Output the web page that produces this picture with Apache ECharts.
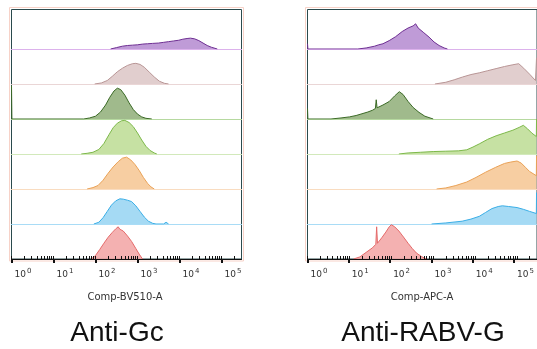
<!DOCTYPE html>
<html><head><meta charset="utf-8">
<script src="https://cdn.jsdelivr.net/npm/echarts@6/dist/echarts.min.js"></script>
<style>html,body{margin:0;padding:0;background:#fff}#c{width:537px;height:349px}</style>
</head><body><div id="c"></div>
<script>
// ---- data: [log10(intensity), relative count] ----
const rowNames = ['purple','mauve','darkgreen','lightgreen','orange','blue','red'];
const panelTitles = ['Anti-Gc','Anti-RABV-G'];
const axisTitles = ['Comp-BV510-A','Comp-APC-A'];
const decadeTicks = [0,1,2,3,4,5];

const gcPurple = [[2.36,0],[2.5,0.04],[2.64,0.08],[2.76,0.1],[2.88,0.11],[3.0,0.12],[3.12,0.14],[3.24,0.15],[3.36,0.16],[3.5,0.17],[3.62,0.19],[3.74,0.21],[3.86,0.23],[3.98,0.25],[4.08,0.28],[4.18,0.3],[4.26,0.31],[4.36,0.29],[4.46,0.24],[4.56,0.17],[4.66,0.1],[4.76,0.05],[4.9,0]];
const gcMauve = [[1.98,0],[2.14,0.03],[2.28,0.1],[2.4,0.22],[2.52,0.35],[2.64,0.45],[2.76,0.53],[2.88,0.58],[2.96,0.59],[3.06,0.56],[3.16,0.48],[3.28,0.34],[3.4,0.2],[3.52,0.08],[3.64,0.02],[3.74,0]];
const gcDarkGreen = [[0,0.95],[0.01,0],[1.72,0],[1.86,0.03],[2.0,0.08],[2.12,0.2],[2.24,0.4],[2.34,0.62],[2.44,0.8],[2.52,0.88],[2.6,0.84],[2.7,0.68],[2.8,0.46],[2.9,0.27],[3.0,0.14],[3.1,0.06],[3.2,0.02],[3.34,0]];
const gcLightGreen = [[1.66,0],[1.8,0.02],[1.94,0.05],[2.08,0.13],[2.2,0.3],[2.32,0.55],[2.42,0.75],[2.52,0.88],[2.62,0.95],[2.7,0.96],[2.8,0.9],[2.9,0.78],[3.0,0.6],[3.1,0.4],[3.2,0.22],[3.3,0.1],[3.4,0.03],[3.46,0]];
const gcOrange = [[1.8,0],[1.94,0.04],[2.06,0.1],[2.18,0.25],[2.3,0.45],[2.42,0.63],[2.54,0.78],[2.64,0.88],[2.74,0.91],[2.84,0.83],[2.94,0.7],[3.04,0.53],[3.14,0.33],[3.24,0.16],[3.32,0.06],[3.4,0]];
const gcBlue = [[1.96,0],[2.08,0.05],[2.18,0.18],[2.28,0.36],[2.38,0.54],[2.48,0.66],[2.58,0.72],[2.66,0.71],[2.76,0.68],[2.86,0.64],[2.96,0.52],[3.06,0.36],[3.16,0.2],[3.26,0.08],[3.36,0.02],[3.44,0],[3.62,0],[3.68,0.05],[3.74,0]];
const gcRed = [[1.9,0],[2.0,0.1],[2.1,0.27],[2.2,0.45],[2.3,0.62],[2.4,0.76],[2.48,0.86],[2.54,0.92],[2.58,0.85],[2.66,0.8],[2.76,0.66],[2.86,0.5],[2.96,0.3],[3.04,0.14],[3.12,0]];

const rgPurple = [[0,0.15],[0.01,0],[1.2,0],[1.4,0.03],[1.6,0.08],[1.7,0.12],[1.8,0.15],[1.95,0.24],[2.1,0.35],[2.26,0.5],[2.4,0.6],[2.52,0.66],[2.58,0.72],[2.64,0.6],[2.76,0.48],[2.9,0.34],[3.02,0.2],[3.14,0.1],[3.26,0.03],[3.34,0]];
const rgMauve = [[3.04,0],[3.3,0.05],[3.5,0.12],[3.7,0.2],[3.9,0.27],[4.1,0.32],[4.3,0.38],[4.5,0.44],[4.7,0.5],[4.9,0.55],[5.04,0.58],[5.16,0.45],[5.3,0.28],[5.44,0.1],[5.46,0.1],[5.465,0.75]];
const rgDarkGreen = [[0,0.3],[0.01,0],[0.56,0],[0.8,0.03],[1.0,0.06],[1.16,0.1],[1.3,0.15],[1.44,0.2],[1.55,0.25],[1.62,0.3],[1.64,0.55],[1.66,0.32],[1.8,0.4],[1.95,0.5],[2.08,0.66],[2.19,0.78],[2.28,0.7],[2.4,0.5],[2.52,0.33],[2.66,0.19],[2.8,0.08],[3.0,0]];
const rgLightGreen = [[2.18,0],[2.4,0.03],[2.7,0.05],[3.0,0.07],[3.3,0.08],[3.6,0.09],[3.8,0.12],[3.95,0.2],[4.1,0.29],[4.3,0.42],[4.5,0.52],[4.7,0.6],[4.9,0.68],[5.05,0.76],[5.15,0.82],[5.25,0.72],[5.35,0.6],[5.46,0.5],[5.465,1.0]];
const rgOrange = [[3.08,0],[3.3,0.03],[3.54,0.1],[3.8,0.2],[4.02,0.33],[4.25,0.48],[4.49,0.62],[4.7,0.73],[4.85,0.77],[5.0,0.8],[5.1,0.74],[5.2,0.62],[5.3,0.5],[5.46,0.38],[5.465,0.95]];
const rgBlue = [[2.96,0],[3.3,0.03],[3.69,0.08],[3.9,0.14],[4.1,0.22],[4.25,0.33],[4.4,0.44],[4.55,0.5],[4.65,0.52],[4.8,0.5],[5.0,0.47],[5.15,0.42],[5.3,0.36],[5.46,0.3],[5.465,0.9]];
const rgRed = [[1.1,0],[1.25,0.06],[1.4,0.19],[1.55,0.32],[1.63,0.42],[1.65,0.92],[1.67,0.45],[1.78,0.62],[1.87,0.77],[1.95,0.92],[2.0,0.98],[2.08,0.92],[2.18,0.8],[2.27,0.66],[2.4,0.45],[2.5,0.3],[2.6,0.17],[2.72,0.07],[2.84,0]];

const panelData = [
  [gcPurple, gcMauve, gcDarkGreen, gcLightGreen, gcOrange, gcBlue, gcRed],
  [rgPurple, rgMauve, rgDarkGreen, rgLightGreen, rgOrange, rgBlue, rgRed]
];

// ---- styles ----
const lineColors = ['#6e2f92','#b89595','#3b6a26','#7db84a','#e9a156','#3aaee6','#e46a6a'];
const fillColors = ['#b48ad0','#dcc6c6','#8fae78','#bcdc93','#f6c692','#95d4f2','#f2a3a3'];
const baseColors = ['#dcb2ec','#ead6d6','#b6d9a0','#d2e9bb','#f9dcc0','#a9dcf6','#f2a3a3'];

const X_MAX = 5.476;
const panelLeft = [11.5, 307.5];
const PW = 230, TOP = 9.5, BOTTOM = 259, ROWH = 35;

const minorTicks = [];
for (let n = 0; n <= 5; n++) for (let k = 1; k <= 9; k++) {
  const v = n + Math.log10(k);
  if (v <= X_MAX) minorTicks.push(v);
}

const grid = [], xAxis = [], yAxis = [], series = [], graphic = [];
function addGrid(g, xa) {
  grid.push(g);
  const i = grid.length - 1;
  xAxis.push(Object.assign({gridIndex: i, type: 'value', min: 0, max: X_MAX, splitLine: {show: false}}, xa));
  yAxis.push({gridIndex: i, type: 'value', min: 0, max: 1, show: false});
  return i;
}

panelLeft.forEach((L, p) => {
  // salmon outer frame
  graphic.push({type: 'rect', silent: true, z: -1,
    shape: {x: L - 2, y: TOP - 2, width: PW + 4, height: BOTTOM - TOP + 4},
    style: {fill: null, stroke: '#f7d2c8', lineWidth: 1}});
  // rows
  panelData[p].forEach((d, r) => {
    const base = BOTTOM - ROWH * (6 - r);
    const gi = addGrid({left: L, top: base - ROWH, width: PW, height: ROWH},
      {axisLine: {show: r !== 6, lineStyle: {color: baseColors[r], width: 1}},
       axisTick: {show: false}, axisLabel: {show: false}, z: 1});
    series.push({
      type: 'line', name: rowNames[r], xAxisIndex: gi, yAxisIndex: gi, data: d,
      symbol: 'none', showSymbol: false, animation: false, silent: true,
      lineStyle: {color: lineColors[r], width: 1},
      areaStyle: {color: fillColors[r], opacity: 0.85}, z: 2
    });
  });
  // frame + minor ticks
  addGrid({show: true, left: L, top: TOP, width: PW, height: BOTTOM - TOP, borderColor: '#2a4a4d', borderWidth: 1},
    {axisLine: {show: true, lineStyle: {color: '#111', width: 1}},
     axisTick: {show: true, inside: true, length: 3, customValues: minorTicks, lineStyle: {color: '#111', width: 1}},
     axisLabel: {show: false}, z: 10});
  // major ticks + labels
  addGrid({left: L, top: TOP, width: PW, height: BOTTOM - TOP},
    {axisLine: {show: false},
     axisTick: {show: true, length: 4, customValues: decadeTicks, lineStyle: {color: '#111', width: 2}},
     axisLabel: {show: true, customValues: decadeTicks, margin: 9, align: 'left', padding: [0,0,0,3],
       formatter: v => '{b|10}{s|' + v + '}',
       rich: {b: {fontSize: 9, lineHeight: 14, color: '#333', fontFamily: 'DejaVu Sans'},
              s: {fontSize: 7, lineHeight: 8, verticalAlign: 'top', color: '#333', fontFamily: 'DejaVu Sans', padding: [0,0,0,1]}}},
     z: 11});
});

graphic.push(
  {type: 'text', x: 125, y: 297, style: {text: axisTitles[0], fill: '#333', font: '10px "DejaVu Sans"', align: 'center', verticalAlign: 'middle'}},
  {type: 'text', x: 422, y: 297, style: {text: axisTitles[1], fill: '#333', font: '10px "DejaVu Sans"', align: 'center', verticalAlign: 'middle'}},
  {type: 'text', x: 117, y: 333, style: {text: panelTitles[0], fill: '#111', font: '28px "Liberation Sans"', align: 'center', verticalAlign: 'middle'}},
  {type: 'text', x: 423, y: 333, style: {text: panelTitles[1], fill: '#111', font: '28px "Liberation Sans"', align: 'center', verticalAlign: 'middle'}}
);

const chart = echarts.init(document.getElementById('c'), null, {renderer: 'canvas'});
chart.setOption({animation: false, backgroundColor: '#fff', grid, xAxis, yAxis, series, graphic});
</script></body></html>
